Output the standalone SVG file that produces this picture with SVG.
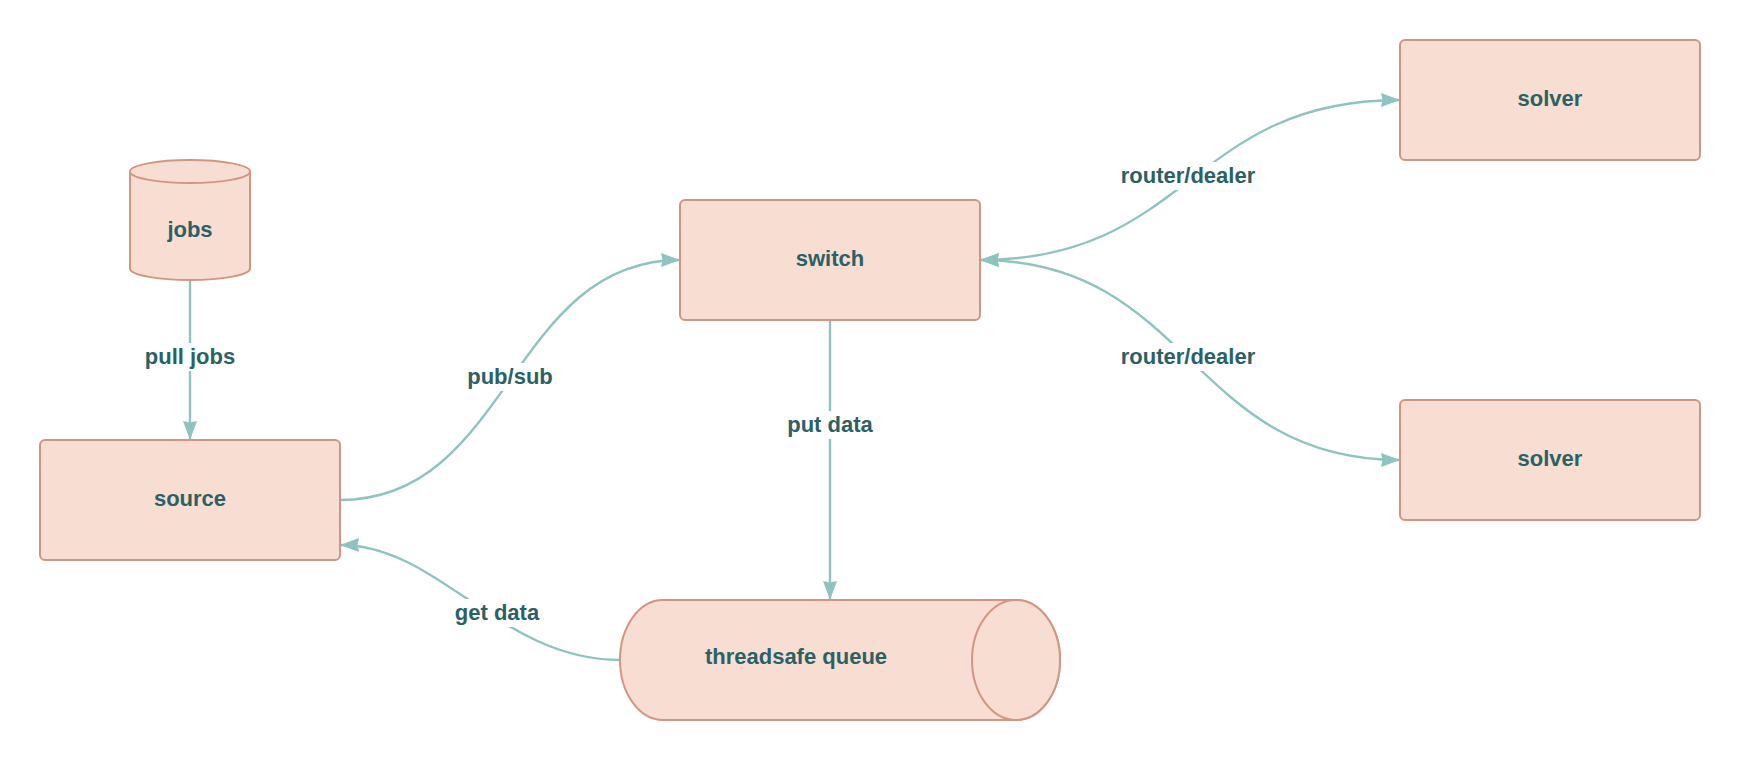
<svg xmlns="http://www.w3.org/2000/svg" width="1740" height="760" viewBox="0 0 1740 760">
<style>
.node{fill:#f8ded2;stroke:#d49580;stroke-width:2}
.lbl{font-family:"Liberation Sans",Arial,sans-serif;font-weight:bold;font-size:22px;fill:#2b6165;text-anchor:middle}
.edge{fill:none;stroke:#8fc3bf;stroke-width:2.4}
.bg{fill:#ffffff}
</style>
<defs>
<marker id="arr" markerUnits="userSpaceOnUse" markerWidth="20" markerHeight="14" refX="19" refY="7" orient="auto-start-reverse" viewBox="0 0 20 14">
<path d="M0,0 L19,7 L0,14 L1.5,7 Z" fill="#8fc3bf"/>
</marker>
</defs>
<rect width="1740" height="760" fill="#ffffff"/>
<g id="connectors">
<path class="edge" d="M190,280 L190,440" marker-end="url(#arr)"/>
<path class="edge" d="M340,500 C510,500 510,260 680,260" marker-end="url(#arr)"/>
<path class="edge" d="M830,320 L830,600" marker-end="url(#arr)"/>
<path class="edge" d="M620,660 C500,660 440,545 340,545" marker-end="url(#arr)"/>
<path class="edge" d="M980,260 C1190,260 1190,100 1400,100" marker-start="url(#arr)" marker-end="url(#arr)"/>
<path class="edge" d="M980,260 C1190,260 1190,460 1400,460" marker-start="url(#arr)" marker-end="url(#arr)"/>
<g id="edge-labels">
<rect class="bg" x="142" y="343" width="96" height="28"/>
<text class="lbl" x="190" y="364">pull jobs</text>
<rect class="bg" x="465" y="363" width="90" height="28"/>
<text class="lbl" x="510" y="384">pub/sub</text>
<rect class="bg" x="785" y="411" width="90" height="28"/>
<text class="lbl" x="830" y="432">put data</text>
<rect class="bg" x="453" y="599" width="88" height="28"/>
<text class="lbl" x="497" y="620">get data</text>
<rect class="bg" x="1119" y="162" width="138" height="28"/>
<text class="lbl" x="1188" y="183">router/dealer</text>
<rect class="bg" x="1119" y="343" width="138" height="28"/>
<text class="lbl" x="1188" y="364">router/dealer</text>
</g>
</g>
<g id="jobs">
<path class="node" d="M130,171.5 A60,11.5 0 0 1 250,171.5 L250,268.5 A60,11.5 0 0 1 130,268.5 Z"/>
<path class="node" d="M130,171.5 A60,11.5 0 0 0 250,171.5" fill="none"/>
<text class="lbl" x="190" y="237">jobs</text>
</g>
<g id="source">
<rect class="node" x="40" y="440" width="300" height="120" rx="5"/>
<text class="lbl" x="190" y="506">source</text>
</g>
<g id="switch">
<rect class="node" x="680" y="200" width="300" height="120" rx="5"/>
<text class="lbl" x="830" y="266">switch</text>
</g>
<g id="solver1">
<rect class="node" x="1400" y="40" width="300" height="120" rx="5"/>
<text class="lbl" x="1550" y="106">solver</text>
</g>
<g id="solver2">
<rect class="node" x="1400" y="400" width="300" height="120" rx="5"/>
<text class="lbl" x="1550" y="466">solver</text>
</g>
<g id="queue">
<path class="node" d="M663,600 L1016,600 A44,60 0 0 1 1016,720 L663,720 A43,60 0 0 1 663,600 Z"/>
<ellipse class="node" cx="1016" cy="660" rx="44" ry="60"/>
<text class="lbl" x="796" y="664">threadsafe queue</text>
</g>
</svg>
